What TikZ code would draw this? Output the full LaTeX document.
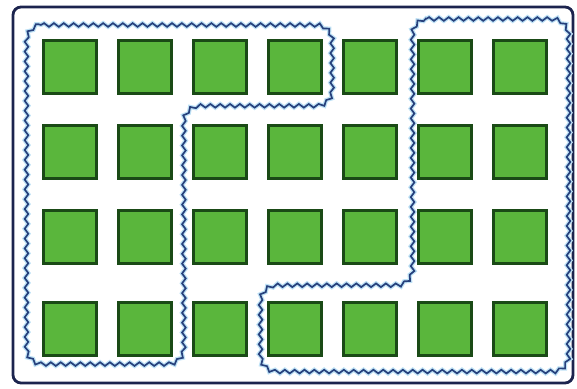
\documentclass[tikz,border=0pt]{standalone}
\usetikzlibrary{decorations.pathmorphing}
\definecolor{cellgreen}{RGB}{90,182,60}
\definecolor{celledge}{RGB}{26,74,22}
\definecolor{loopblue}{RGB}{38,64,124}
\definecolor{loopglow}{RGB}{190,225,245}
\definecolor{framenavy}{RGB}{28,36,78}
\begin{document}
\begin{tikzpicture}[x=0.5mm,y=0.5mm,line cap=round,
  cell/.style={draw=celledge,fill=cellgreen,line width=3.4pt,minimum size=26.5mm,inner sep=0pt},
  loopline/.style={draw=loopblue,line width=2.4pt,
    preaction={draw=loopglow,line width=6pt},
    decoration={snake,amplitude=2.6pt,segment length=14pt}},
  frame/.style={draw=framenavy,line width=4pt,rounded corners=4mm}]
  \useasboundingbox (0,0) rectangle (577,389);
  \draw[frame] (13,6) rectangle (573,382);
  % the 4 x 7 squares
  \foreach \r/\y in {1/322,2/237,3/152,4/60}
    \foreach \c in {1,...,7}
      \node[cell] (s\r\c) at ({70+75*(\c-1)},\y) {};
  % left group
  \draw[loopline] decorate {[rounded corners=8mm] (25,364) -- (330,364) -- (330,283)
    -- (182,283) -- (182,25) -- (25,25) -- cycle};
  % right group
  \draw[loopline] decorate {[rounded corners=8mm] (410,370) -- (566,370) -- (566,17)
    -- (258,17) -- (258,103) -- (410,103) -- cycle};
\end{tikzpicture}
\end{document}
